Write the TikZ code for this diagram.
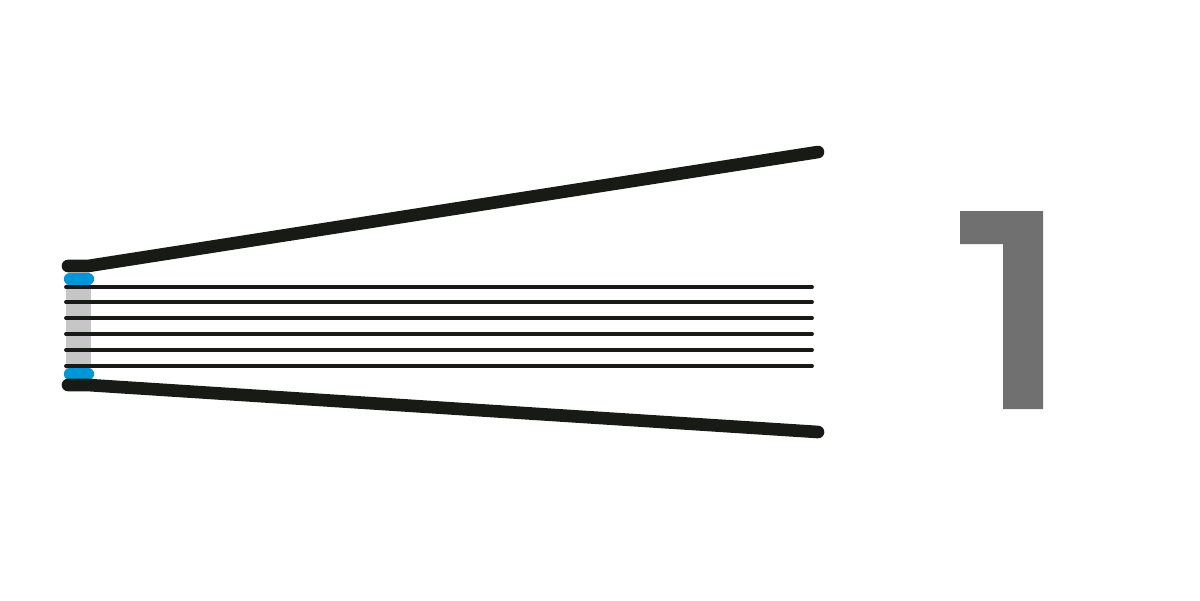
\documentclass[tikz,border=0pt]{standalone}
\definecolor{ink}{HTML}{181A16}
\definecolor{glue}{HTML}{0096D8}
\definecolor{spine}{HTML}{C6C6C6}
\definecolor{numgray}{HTML}{707070}
\begin{document}
\begin{tikzpicture}[x=0.02cm, y=-0.02cm,
    cover/.style={ink, line width=7.2pt, line cap=round, line join=round},
    sheet/.style={ink, line width=2.2pt, line cap=round},
    gluecap/.style={glue, line width=7pt, line cap=round}
]
    \useasboundingbox (0,0) rectangle (1200,600);
    % spine
    \fill[spine] (66,278) rectangle (91,375);
    % sheets
    \foreach \y in {287,302,318,334,350,366}
        \draw[sheet] (66,\y) -- (812,\y);
    % glue caps
    \draw[gluecap] (70,279) -- (88,279);
    \draw[gluecap] (70,374) -- (88,374);
    % covers
    \coordinate (topfold) at (88,266);
    \coordinate (topend) at (818,152);
    \coordinate (botfold) at (88,385);
    \coordinate (botend) at (818,432);
    \draw[cover] (68,266) -- (topfold) -- (topend);
    \draw[cover] (68,385) -- (botfold) -- (botend);
    % number
    \fill[numgray] (960,211) -- (1043,211) -- (1043,409) -- (1003,409)
        -- (1003,244) -- (960,244) -- cycle;
\end{tikzpicture}
\end{document}
